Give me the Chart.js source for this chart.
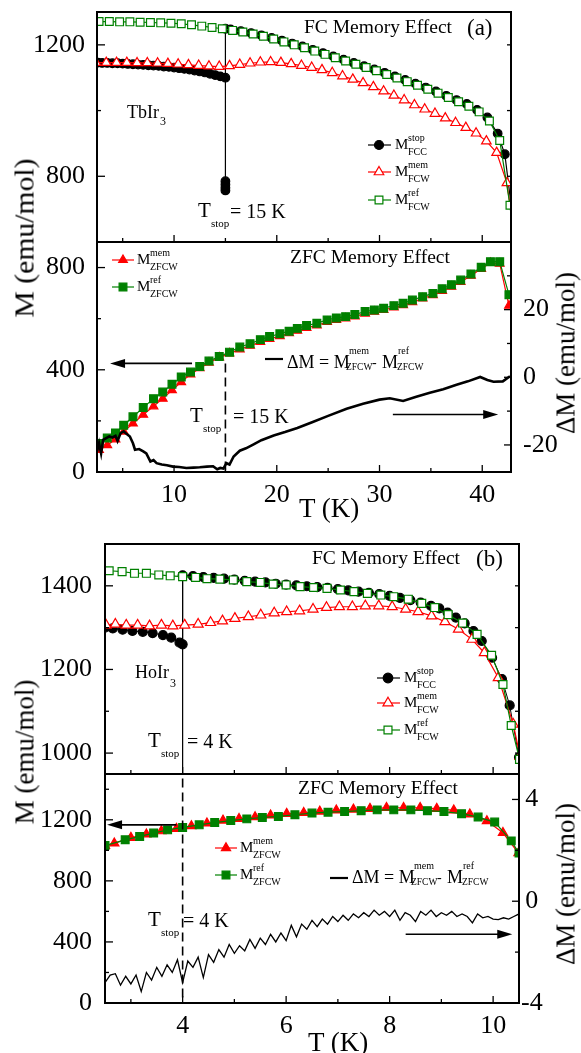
<!DOCTYPE html>
<html><head><meta charset="utf-8">
<script src="https://cdn.jsdelivr.net/npm/chart.js@4.4.1/dist/chart.umd.min.js"></script>
<style>
html,body{margin:0;padding:0;background:#fff;}
#wrap{position:relative;width:581px;height:1053px;overflow:hidden;background:#fff;font-family:"Liberation Serif","Times New Roman",serif;color:#000;}
#wrap canvas{position:absolute;}
.tx{position:absolute;white-space:nowrap;line-height:1;}
</style></head><body><div id="wrap"></div>
<script>
// ---------------- DATA : (a) TbIr3 ----------------
const aFcRefT = [2.7,3.7,4.7,5.7,6.7,7.7,8.7,9.7,10.7,11.7,12.7,13.7,14.7,15.7,16.7,17.7,18.7,19.7,20.7,21.7,22.7,23.7,24.7,25.7,26.7,27.7,28.7,29.7,30.7,31.7,32.7,33.7,34.7,35.7,36.7,37.7,38.7,39.7,40.7,41.7,42.7,43.2];
const aFcRefM = [1271,1271,1270,1270,1269,1268,1267,1266,1264,1261,1257,1253,1249,1244,1239,1233,1226,1218,1209,1200,1191,1181,1171,1161,1151,1141,1131,1121,1110,1099,1088,1077,1065,1053,1040,1027,1013,996,968,909,712,560];
const aFcMemT = [2.4,3.4,4.4,5.4,6.4,7.4,8.4,9.4,10.4,11.4,12.4,13.4,14.4,15.4,16.4,17.4,18.4,19.4,20.4,21.4,22.4,23.4,24.4,25.4,26.4,27.4,28.4,29.4,30.4,31.4,32.4,33.4,34.4,35.4,36.4,37.4,38.4,39.4,40.4,41.4,42.4,43.2];
const aFcMemM = [1146,1146,1146,1146,1145,1145,1144,1143,1141,1139,1137,1135,1134,1136,1140,1144,1147,1148,1146,1142,1137,1131,1124,1115,1105,1095,1084,1072,1059,1046,1032,1017,1004,991,977,963,948,931,907,872,780,600];
const aFcStopT = [42.9,42.2,41.5,40.5,39.5,38.5,37.5,36.5,35.5,34.5,33.5,32.5,31.5,30.5,29.5,28.5,27.5,26.5,25.5,24.5,23.5,22.5,21.5,20.5,19.5,18.5,17.5,16.5,15.5,15,15,15,15,15,15,14.5,14,13.5,13,12.5,12,11.5,11,10.5,10,9.5,9,8.5,8,7.5,7,6.5,6,5.5,5,4.5,4,3.5,3,2.6];
const aFcStopM = [690,867,930,979,1002,1020,1032,1045,1058,1070,1082,1093,1104,1115,1125,1135,1145,1155,1165,1175,1185,1195,1204,1213,1221,1229,1236,1242,1247,1249,785,775,765,757,1100,1104,1108,1112,1116,1119,1122,1125,1127,1129,1131,1133,1134,1136,1137,1138,1139,1140,1141,1142,1143,1144,1144,1145,1145,1146];
const aZfcT = [2.7,3.5,4.3,5.1,6.0,7.0,8.0,8.9,9.8,10.7,11.6,12.5,13.4,14.4,15.4,16.4,17.4,18.4,19.3,20.3,21.2,22.0,22.9,23.9,24.9,25.8,26.7,27.6,28.6,29.5,30.4,31.4,32.3,33.2,34.2,35.2,36.1,37.0,37.9,38.9,39.9,40.8,41.7,42.6];
const aZfcRefM = [112,133,153,183,216,252,287,313,343,372,391,413,434,452,469,489,502,518,530,541,551,562,573,582,595,603,608,616,628,634,641,651,660,673,686,699,717,733,751,775,801,823,823,694];
const aZfcMemM = [86,105,128,158,190,224,257,287,320,352,382,406,428,448,464,480,494,509,521,532,543,553,564,574,587,595,601,609,620,627,634,644,653,665,679,692,709,725,744,768,795,818,815,651];
const aDeltaT = [2.5,2.7,2.9,3.1,3.4,3.7,4.0,4.3,4.5,4.8,5.1,5.4,5.7,6.0,6.2,6.6,7.0,7.3,7.7,8.0,8.3,8.8,9.3,9.9,10.5,11.2,11.9,12.5,13.2,13.8,14.2,14.5,14.8,15.1,15.4,15.8,16.4,17.0,17.7,18.5,19.7,20.8,22.0,23.5,25.0,26.8,28.4,30.0,31.0,32.3,33.5,34.9,36.2,37.5,38.6,39.8,40.5,41.1,42.0,42.7];
const aDeltaM = [-22,-19.5,-22.5,-18.5,-18,-17.5,-17.8,-17.3,-18.8,-16.5,-16,-16.8,-17.5,-19.5,-21.4,-21.2,-21.9,-22.5,-24.9,-24.5,-25.4,-25.8,-26,-26.4,-26.5,-26.8,-26.7,-26.6,-26.4,-26.3,-27.2,-26.8,-27,-25.4,-25.8,-23.4,-21.7,-21,-19.9,-18.6,-17.2,-16.2,-15,-13.2,-11.4,-9.3,-7.8,-6.6,-6.2,-7.0,-5.8,-4.6,-3.5,-2.2,-1.2,0.1,-0.8,-1.3,-1.2,0.3];
const aTstop = 15;

// ---------------- DATA : (b) HoIr3 ----------------
const bFcRefT = [2.58,2.83,3.07,3.3,3.54,3.76,4.0,4.25,4.47,4.72,4.98,5.24,5.5,5.75,6.0,6.27,6.53,6.79,7.05,7.31,7.57,7.83,8.08,8.36,8.62,8.87,9.13,9.41,9.69,9.97,10.19,10.35,10.51];
const bFcRefM = [1436,1434,1430,1430,1426,1424,1422,1420,1417,1416,1414,1410,1408,1404,1402,1398,1396,1394,1390,1386,1382,1378,1374,1368,1358,1348,1331,1311,1284,1234,1164,1066,985];
const bFcMemT = [2.52,2.7,2.91,3.13,3.36,3.59,3.81,4.04,4.3,4.54,4.77,5.01,5.27,5.51,5.77,6.01,6.26,6.52,6.78,7.03,7.28,7.53,7.79,8.05,8.31,8.55,8.81,9.07,9.33,9.59,9.83,10.1,10.39,10.52];
const bFcMemM = [1306,1308,1306,1306,1304,1306,1304,1306,1308,1312,1316,1322,1326,1330,1335,1338,1340,1344,1348,1350,1350,1352,1352,1350,1344,1338,1328,1314,1296,1272,1240,1180,1069,992];
const bFcStopT = [10.5,10.32,10.17,9.98,9.78,9.62,9.45,9.28,9.12,8.96,8.8,8.6,8.4,8.2,8.0,7.8,7.6,7.4,7.2,7.0,6.8,6.6,6.4,6.2,6.0,5.8,5.6,5.4,5.2,5.0,4.8,4.6,4.4,4.2,4.0,4.0,4.0,3.94,3.78,3.62,3.42,3.23,3.03,2.84,2.65,2.5];
const bFcStopM = [990,1114,1177,1228,1268,1292,1310,1324,1336,1346,1352,1360,1366,1371,1376,1380,1383,1386,1389,1392,1395,1397,1399,1401,1403,1405,1408,1410,1412,1415,1417,1419,1421,1423,1425,900,1260,1264,1276,1282,1287,1290,1292,1295,1298,1300];
const bZfcRefT = [2.5,2.89,3.17,3.44,3.71,4.0,4.32,4.62,4.93,5.24,5.54,5.85,6.17,6.5,6.81,7.13,7.45,7.76,8.08,8.41,8.73,9.05,9.39,9.71,10.03,10.35,10.5];
const bZfcRefM = [1031,1069,1091,1113,1134,1150,1167,1182,1195,1206,1215,1222,1233,1244,1250,1254,1260,1265,1265,1265,1260,1254,1240,1218,1185,1062,982];
const bZfcMemT = [2.5,2.68,3.0,3.3,3.59,3.88,4.17,4.47,4.78,5.09,5.4,5.7,6.01,6.34,6.65,6.97,7.3,7.62,7.94,8.27,8.59,8.91,9.24,9.55,9.88,10.19,10.49];
const bZfcMemM = [1030,1046,1083,1105,1126,1142,1159,1177,1196,1207,1218,1229,1240,1246,1255,1262,1268,1273,1279,1279,1279,1273,1262,1236,1192,1115,982];
const bDeltaT = [2.5,2.6,2.7,2.8,2.9,3.0,3.1,3.2,3.3,3.4,3.5,3.6,3.7,3.8,3.9,4.0,4.1,4.2,4.3,4.4,4.5,4.6,4.7,4.8,4.9,5.0,5.1,5.2,5.3,5.4,5.5,5.6,5.7,5.8,5.9,6.0,6.1,6.2,6.3,6.4,6.5,6.6,6.7,6.8,6.9,7.0,7.1,7.2,7.3,7.4,7.5,7.6,7.7,7.8,7.9,8.0,8.1,8.2,8.3,8.4,8.5,8.6,8.7,8.8,8.9,9.0,9.1,9.2,9.3,9.4,9.5,9.6,9.7,9.8,9.9,10.0,10.1,10.2,10.3,10.4,10.5];
const bDeltaM = [-3.2,-2.9,-2.85,-3.3,-2.95,-3.25,-2.9,-3.55,-2.8,-3.1,-2.6,-2.95,-2.5,-2.8,-2.3,-3.2,-2.35,-2.6,-2.2,-3.0,-2.1,-2.4,-1.9,-2.2,-1.7,-2.05,-1.75,-1.95,-1.5,-1.85,-1.45,-1.7,-1.3,-1.6,-1.25,-1.55,-0.95,-1.4,-0.9,-1.1,-0.75,-1.0,-0.7,-0.9,-0.6,-0.8,-0.55,-0.75,-0.5,-0.65,-0.45,-0.6,-0.35,-0.55,-0.4,-0.6,-0.35,-0.75,-0.45,-0.55,-0.8,-0.4,-0.55,-0.35,-0.6,-0.45,-0.55,-0.4,-0.6,-0.5,-0.6,-0.85,-0.5,-0.65,-0.6,-0.7,-0.72,-0.65,-0.7,-0.6,-0.5];
const bTstop = 4;

// axis ranges and tick labels
const aXRange = [2.5, 42.8], aXTicks = [10,20,30,40], aXMinor = [5,15,25,35];
const aTopRange = [600, 1300], aTopTicks = [800,1200], aTopMinor = [1000];
const aBotRange = [0, 900], aBotTicks = [0,400,800], aBotMinor = [200,600];
const aDRange = [-28, 40], aDTicks = [-20,0,20], aDMinor = [-10,10,30];
const bXRange = [2.5, 10.5], bXTicks = [4,6,8,10], bXMinor = [3,5,7,9];
const bTopRange = [950, 1500], bTopTicks = [1000,1200,1400], bTopMinor = [1100,1300];
const bBotRange = [0, 1500], bBotTicks = [0,400,800,1200], bBotMinor = [200,600,1000,1400];
const bDRange = [-4, 5], bDTicks = [-4,0,4], bDMinor = [-2,2];

// ---------------- RENDER ----------------
const FONT = '"Liberation Serif","Times New Roman",serif';
Chart.defaults.font.family = FONT;
Chart.defaults.color = '#000';
const wrap = document.getElementById('wrap');
const DECOR = {};
const GREEN = '#008000', RED = '#ff0000';
function pts(xs, ys){ return xs.map((x,i)=>({x:x, y:ys[i]})); }

function drawMarker(ctx, style, x, y, r, stroke, fill, lw){
  ctx.beginPath();
  if (style==='circle') ctx.arc(x,y,r,0,Math.PI*2);
  else if (style==='rect'){ const s=r*Math.SQRT1_2; ctx.rect(x-s,y-s,2*s,2*s); }
  else if (style==='triangle'){ for(let i=0;i<3;i++){ const a=i*2*Math.PI/3; const px=x+Math.sin(a)*r, py=y-Math.cos(a)*r; if(i===0) ctx.moveTo(px,py); else ctx.lineTo(px,py);} ctx.closePath(); }
  ctx.fillStyle=fill; ctx.fill(); ctx.lineWidth=lw; ctx.strokeStyle=stroke; ctx.stroke();
}

const decorPlugin = {
  id:'decor',
  afterDraw(chart){
    const cfg = DECOR[chart.canvas.id]; if(!cfg) return;
    const ctx = chart.ctx, a = chart.chartArea;
    ctx.save();
    ctx.strokeStyle='#000'; ctx.lineWidth=1.3;
    for (const t of cfg.ticks){
      const s = chart.scales[t.scale];
      const dr = (v,len)=>{
        const p = s.getPixelForValue(v);
        ctx.beginPath();
        if (t.side==='left'){ ctx.moveTo(a.left,p); ctx.lineTo(a.left+len,p); }
        else if (t.side==='right'){ ctx.moveTo(a.right,p); ctx.lineTo(a.right-len,p); }
        else { ctx.moveTo(p,a.bottom); ctx.lineTo(p,a.bottom-len); }
        ctx.stroke();
      };
      t.major.forEach(v=>dr(v,t.ml||7));
      (t.minor||[]).forEach(v=>dr(v,t.nl||4));
    }
    ctx.lineWidth=2; ctx.strokeStyle='#000';
    ctx.strokeRect(a.left,a.top,a.right-a.left,a.bottom-a.top);
    for (const ar of (cfg.arrows||[])){
      const xs=chart.scales.x, ys=chart.scales[ar.y];
      const x1=xs.getPixelForValue(ar.t1), x2=xs.getPixelForValue(ar.t2), y=ys.getPixelForValue(ar.v);
      const dir = x2>x1?1:-1, hl=15, hw=4.5;
      ctx.lineWidth=1.6; ctx.strokeStyle='#000'; ctx.fillStyle='#000';
      ctx.beginPath(); ctx.moveTo(x1,y); ctx.lineTo(x2-dir*hl*0.8,y); ctx.stroke();
      ctx.beginPath(); ctx.moveTo(x2,y); ctx.lineTo(x2-dir*hl,y-hw); ctx.lineTo(x2-dir*hl,y+hw); ctx.closePath(); ctx.fill();
    }
    for (const lg of (cfg.legend||[])){
      const ox=cfg.L, oy=cfg.T;
      ctx.lineWidth=lg.lw||1.2; ctx.strokeStyle=lg.stroke;
      ctx.beginPath(); ctx.moveTo(lg.x1-ox,lg.y-oy); ctx.lineTo(lg.x2-ox,lg.y-oy); ctx.stroke();
      if (lg.style) drawMarker(ctx, lg.style, lg.mx-ox, lg.y-oy, lg.r, lg.stroke, lg.fill, 1.2);
    }
    ctx.restore();
  }
};

function panel(id, box, area, xc, yc, y2c, datasets, decor){
  const c=document.createElement('canvas');
  c.id=id; c.width=box.W; c.height=box.H;
  c.style.left=box.L+'px'; c.style.top=box.T+'px'; c.style.width=box.W+'px'; c.style.height=box.H+'px';
  wrap.appendChild(c);
  decor.L=box.L; decor.T=box.T; DECOR[id]=decor;
  const yw=area.x0-box.L, xh=box.T+box.H-area.y1, padTop=area.y0-box.T, rightW=box.L+box.W-area.x1;
  const tf={family:FONT,size:26};
  const scales={
    x:{type:'linear',position:'bottom',min:xc.min,max:xc.max,
      grid:{display:false,drawTicks:false},border:{display:false},
      ticks:{display:!!xc.labels,font:tf,color:'#000',padding:xc.pad||8,maxRotation:0,minRotation:0,autoSkip:false,callback:v=>String(v)},
      afterBuildTicks:s=>{ if(xc.labels) s.ticks=xc.labels.map(v=>({value:v})); },
      afterFit:s=>{ s.height=xh; s.paddingLeft=0; s.paddingRight=0; }},
    y:{type:'linear',position:'left',min:yc.min,max:yc.max,
      grid:{display:false,drawTicks:false},border:{display:false},
      ticks:{font:tf,color:'#000',padding:yc.pad||12,autoSkip:false,callback:v=>String(v)},
      afterBuildTicks:s=>{ s.ticks=yc.labels.map(v=>({value:v})); },
      afterFit:s=>{ s.width=yw; s.paddingTop=0; s.paddingBottom=0; }}
  };
  if (y2c){
    scales.y2={type:'linear',position:'right',min:y2c.min,max:y2c.max,
      grid:{display:false,drawTicks:false},border:{display:false},
      ticks:{font:tf,color:'#000',padding:y2c.pad||12,crossAlign:y2c.align||'near',autoSkip:false,callback:v=>String(v)},
      afterBuildTicks:s=>{ s.ticks=y2c.labels.map(v=>({value:v})); },
      afterFit:s=>{ s.width=rightW; s.paddingTop=0; s.paddingBottom=0; }};
  }
  new Chart(c,{type:'line',data:{datasets:datasets},
    options:{responsive:false,animation:false,devicePixelRatio:1,
      layout:{padding:{top:padTop,left:0,right:y2c?0:rightW,bottom:0}},
      plugins:{legend:{display:false},tooltip:{enabled:false}},
      events:[],
      scales:scales},
    plugins:[decorPlugin]});
}

function ds(o){ return Object.assign({tension:0,fill:false,borderWidth:1.2,pointBorderWidth:1.2,yAxisID:'y'},o); }

// ---- (a) top ----
panel('a1',{L:0,T:-30,W:581,H:302},{x0:97,y0:12,x1:511,y1:242},
  {min:aXRange[0],max:aXRange[1],labels:null},
  {min:aTopRange[0],max:aTopRange[1],labels:aTopTicks,pad:12}, null,
  [
    ds({data:pts(aFcRefT,aFcRefM),borderColor:GREEN,pointBorderColor:GREEN,pointBackgroundColor:'#fff',pointStyle:'rect',pointRadius:c=>(c.raw&&c.raw.x>aXRange[1])?0:5.5,order:0}),
    ds({data:pts(aFcMemT,aFcMemM),borderColor:RED,pointBorderColor:RED,pointBackgroundColor:'#fff',pointStyle:'triangle',pointRadius:c=>(c.raw&&c.raw.x>aXRange[1])?0:5.5,order:1}),
    ds({data:pts(aFcStopT,aFcStopM),borderColor:'#000',pointBorderColor:'#000',pointBackgroundColor:'#000',pointStyle:'circle',pointRadius:c=>(c.raw&&c.raw.x>aXRange[1])?0:4.3,order:2})
  ],
  {ticks:[{scale:'y',side:'left',major:aTopTicks,minor:aTopMinor,ml:8,nl:4},
          {scale:'y',side:'right',major:aTopTicks.concat(aTopMinor),ml:4},
          {scale:'x',side:'bottom',major:aXTicks,minor:aXMinor,ml:7,nl:4}],
   legend:[{x1:368,x2:391,mx:379,y:145,style:'circle',r:4.5,stroke:'#000',fill:'#000'},
           {x1:368,x2:391,mx:379,y:172,style:'triangle',r:5.5,stroke:RED,fill:'#fff'},
           {x1:368,x2:391,mx:379,y:200,style:'rect',r:5.5,stroke:GREEN,fill:'#fff'}]});

// ---- (a) bottom ----
panel('a2',{L:0,T:212,W:581,H:330},{x0:97,y0:242,x1:511,y1:472},
  {min:aXRange[0],max:aXRange[1],labels:aXTicks,pad:8},
  {min:aBotRange[0],max:aBotRange[1],labels:aBotTicks,pad:12},
  {min:aDRange[0],max:aDRange[1],labels:aDTicks,pad:12,align:'near'},
  [
    ds({data:[{x:aTstop,y:425},{x:aTstop,y:0}],borderColor:'#000',borderWidth:1.6,borderDash:[9,5],pointRadius:0,order:0}),
    ds({data:pts(aDeltaT,aDeltaM),yAxisID:'y2',borderColor:'#000',borderWidth:2.6,pointRadius:0,order:1}),
    ds({data:pts(aZfcT,aZfcRefM),borderColor:GREEN,pointBorderColor:GREEN,pointBackgroundColor:GREEN,pointStyle:'rect',pointRadius:5.5,order:2}),
    ds({data:pts(aZfcT,aZfcMemM),borderColor:RED,pointBorderColor:RED,pointBackgroundColor:RED,pointStyle:'triangle',pointRadius:5,order:3})
  ],
  {ticks:[{scale:'y',side:'left',major:aBotTicks,minor:aBotMinor,ml:8,nl:4},
          {scale:'y2',side:'right',major:aDTicks,minor:aDMinor,ml:7,nl:4},
          {scale:'x',side:'bottom',major:aXTicks,minor:aXMinor,ml:7,nl:4}],
   arrows:[{y:'y',v:425,t1:11.75,t2:3.77},{y:'y2',v:-11,t1:31.3,t2:41.55}],
   legend:[{x1:112,x2:134,mx:123,y:260,style:'triangle',r:5,stroke:RED,fill:RED},
           {x1:112,x2:134,mx:123,y:287,style:'rect',r:5.5,stroke:GREEN,fill:GREEN},
           {x1:265,x2:283,y:359,stroke:'#000',lw:2.2}]});

// ---- (b) top ----
panel('b1',{L:0,T:514,W:581,H:290},{x0:105,y0:544,x1:519,y1:774},
  {min:bXRange[0],max:bXRange[1],labels:null},
  {min:bTopRange[0],max:bTopRange[1],labels:bTopTicks,pad:13}, null,
  [
    ds({data:pts(bFcRefT,bFcRefM),borderColor:GREEN,pointBorderColor:GREEN,pointBackgroundColor:'#fff',pointStyle:'rect',pointRadius:5.6,order:0}),
    ds({data:pts(bFcMemT,bFcMemM),borderColor:RED,pointBorderColor:RED,pointBackgroundColor:'#fff',pointStyle:'triangle',pointRadius:5.8,order:1}),
    ds({data:pts(bFcStopT,bFcStopM),borderColor:'#000',pointBorderColor:'#000',pointBackgroundColor:'#000',pointStyle:'circle',pointRadius:4.5,borderWidth:1,order:2})
  ],
  {ticks:[{scale:'y',side:'left',major:bTopTicks,minor:bTopMinor,ml:8,nl:4},
          {scale:'y',side:'right',major:bTopTicks.concat(bTopMinor),ml:4},
          {scale:'x',side:'bottom',major:bXTicks,minor:bXMinor,ml:7,nl:4}],
   legend:[{x1:377,x2:400,mx:388,y:678,style:'circle',r:4.8,stroke:'#000',fill:'#000'},
           {x1:377,x2:400,mx:388,y:703,style:'triangle',r:5.8,stroke:RED,fill:'#fff'},
           {x1:377,x2:400,mx:388,y:730,style:'rect',r:5.6,stroke:GREEN,fill:'#fff'}]});

// ---- (b) bottom ----
panel('b2',{L:0,T:744,W:581,H:309},{x0:105,y0:774,x1:519,y1:1003},
  {min:bXRange[0],max:bXRange[1],labels:bXTicks,pad:8},
  {min:bBotRange[0],max:bBotRange[1],labels:bBotTicks,pad:13},
  {min:bDRange[0],max:bDRange[1],labels:bDTicks,pad:2,align:'center'},
  [
    ds({data:[{x:bTstop,y:1470},{x:bTstop,y:0}],borderColor:'#000',borderWidth:1.6,borderDash:[9,5],pointRadius:0,order:0}),
    ds({data:pts(bDeltaT,bDeltaM),yAxisID:'y2',borderColor:'#000',borderWidth:1.3,pointRadius:0,order:1}),
    ds({data:pts(bZfcRefT,bZfcRefM),borderColor:GREEN,pointBorderColor:GREEN,pointBackgroundColor:GREEN,pointStyle:'rect',pointRadius:5.5,order:2}),
    ds({data:pts(bZfcMemT,bZfcMemM),borderColor:RED,pointBorderColor:RED,pointBackgroundColor:RED,pointStyle:'triangle',pointRadius:5.3,order:3})
  ],
  {ticks:[{scale:'y',side:'left',major:bBotTicks,minor:bBotMinor,ml:8,nl:4},
          {scale:'y2',side:'right',major:bDTicks,minor:bDMinor,ml:7,nl:4},
          {scale:'x',side:'bottom',major:bXTicks,minor:bXMinor,ml:7,nl:4}],
   arrows:[{y:'y',v:1167,t1:3.88,t2:2.54},{y:'y2',v:-1.3,t1:8.31,t2:10.37}],
   legend:[{x1:215,x2:237,mx:226,y:848,style:'triangle',r:5.3,stroke:RED,fill:RED},
           {x1:215,x2:237,mx:226,y:875,style:'rect',r:5.5,stroke:GREEN,fill:GREEN},
           {x1:330,x2:348,y:878,stroke:'#000',lw:2.2}]});

// ---------------- TEXT ----------------
function txt(x, base, size, s){
  const d=document.createElement('div'); d.className='tx';
  d.style.left=x+'px'; d.style.top=(base-0.84*size)+'px'; d.style.fontSize=size+'px';
  d.textContent=s; wrap.appendChild(d); return d;
}
function rot(cx, cy, size, s, sc){
  const d=document.createElement('div'); d.className='tx';
  d.style.left=cx+'px'; d.style.top=cy+'px'; d.style.fontSize=size+'px';
  d.style.transform='translate(-50%,-50%) rotate(-90deg) scaleX('+(sc||1)+')';
  d.textContent=s; wrap.appendChild(d); return d;
}
function legText(x, rowY, sup, sub){
  txt(x, rowY+5, 15, 'M');
  txt(x+13, rowY-4, 10, sup);
  txt(x+13, rowY+10, 10, sub);
}
function tstopText(x, base, rest, restX){
  txt(x, base, 21, 'T');
  txt(x+13, base+9, 11, 'stop');
  txt(restX, base, 20, rest);
}
function dmText(x, base){
  txt(x, base, 18, 'ΔM = M');
  txt(x+62, base-14, 10, 'mem');
  txt(x+59, base+3, 9.5, 'ZFCW');
  txt(x+85, base, 14, '-');
  txt(x+95, base, 18, 'M');
  txt(x+111, base-14, 10, 'ref');
  txt(x+110, base+3, 9.5, 'ZFCW');
}

// (a)
txt(304, 33, 19.5, 'FC Memory Effect');
txt(467, 35, 23, '(a)');
txt(127, 118, 18, 'TbIr'); txt(160, 125, 12, '3');
tstopText(198, 218, '= 15 K', 230);
legText(395, 145, 'stop', 'FCC');
legText(395, 172, 'mem', 'FCW');
legText(395, 200, 'ref', 'FCW');
txt(290, 263, 19.5, 'ZFC Memory Effect');
legText(137, 260, 'mem', 'ZFCW');
legText(137, 287, 'ref', 'ZFCW');
dmText(287, 368);
tstopText(190, 423, '= 15 K', 233);
rot(25, 238, 27, 'M (emu/mol)', 1.1);
rot(566, 353, 27, 'ΔM (emu/mol)');
txt(299, 518, 27, 'T (K)');

// (b)
txt(312, 564, 19.5, 'FC Memory Effect');
txt(476, 566, 23, '(b)');
txt(135, 678, 18, 'HoIr'); txt(170, 687, 12, '3');
tstopText(148, 748, '= 4 K', 187);
legText(404, 678, 'stop', 'FCC');
legText(404, 703, 'mem', 'FCW');
legText(404, 730, 'ref', 'FCW');
txt(298, 794, 19.5, 'ZFC Memory Effect');
legText(240, 848, 'mem', 'ZFCW');
legText(240, 875, 'ref', 'ZFCW');
dmText(352, 883);
tstopText(148, 927, '= 4 K', 183);
rot(25, 752, 27, 'M (emu/mol)');
rot(566, 884, 27, 'ΔM (emu/mol)');
txt(308, 1052, 27, 'T (K)');
</script></body></html>
